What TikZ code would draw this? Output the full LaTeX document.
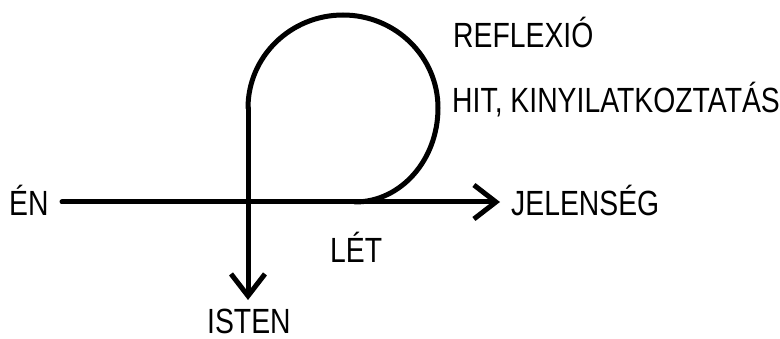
\documentclass[tikz,border=0pt]{standalone}
\usepackage{fontspec}
\setmainfont{Liberation Sans}[FakeStretch=0.81]
\usetikzlibrary{arrows.meta, positioning}

\begin{document}
\begin{tikzpicture}[
  x=1pt, y=1pt,
  lbl/.style={anchor=base west, inner sep=0pt,
              font=\fontsize{35}{35}\selectfont},
  ln/.style={line width=5pt, line cap=round},
  arr/.style={ln, -{Straight Barb[length=22pt, width=34pt]}},
]
\useasboundingbox (0,0) rectangle (780,338);

% labels
\node[lbl] (EN)   at (9,123)   {ÉN};
\node[lbl] (JEL)  at (511,123) {JELENSÉG};
\node[lbl] (LET)  at (330,76)  {LÉT};
\node[lbl] (IST)  at (207,5)   {ISTEN};
\node[lbl] (REF)  at (453,290) {REFLEXIÓ};
\node[lbl] (HIT)  at (452,225) {HIT, KINYILATKOZTATÁS};

% line ends
\coordinate (EN0)  at (62,136);
\coordinate (JEL0) at (500,136);
\coordinate (LOOP) at (248,230);
\coordinate (IST0) at (248,38);

\draw[arr] (EN0) -- (JEL0);
\draw[arr] (LOOP) -- (IST0);
\draw[ln] (LOOP) arc[start angle=180, end angle=0, x radius=95, y radius=93]
          arc[start angle=0, end angle=-90, x radius=83, y radius=94];
\end{tikzpicture}
\end{document}
